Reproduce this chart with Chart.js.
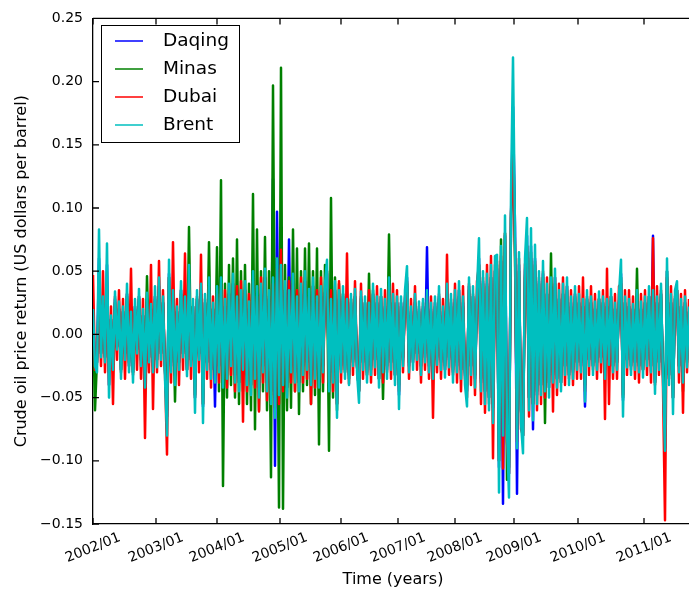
<!DOCTYPE html>
<html>
<head>
<meta charset="utf-8">
<script src="https://cdn.jsdelivr.net/npm/chart.js@4.4.0/dist/chart.umd.min.js"></script>
<style>
  html, body { margin: 0; padding: 0; background: #fff; }
  canvas { display: block; }
</style>
</head>
<body>
<canvas id="returnsChart" width="689" height="594"></canvas>
<script>
// Crude oil price returns, stored in thousandths (one row per calendar year)
var daqing = [
  15,-20,-22,60,-15,25,-18,55,-40,12,-22,28,-10,20,-28,18,-15,32,-25,15,-30,22,-12,30,-20,15,-35,28,-18,20,-25,30,
  -20,38,-15,25,-28,-65,48,-25,28,-32,18,-22,35,-15,25,-28,45,-20,22,-50,28,-15,32,-57,25,-22,38,-28,20,-57,
  30,-25,38,-35,22,-28,32,-20,40,-32,25,-38,28,-22,35,-32,20,-40,42,-28,30,-42,32,-25,45,-38,28,-45,123,-104,97,-40,
  45,-32,35,-42,75,-25,40,-30,25,-38,32,-25,42,-22,30,-32,38,-28,25,-35,30,-25,32,48,-38,22,-30,35,-55,28,
  -25,30,-28,22,-32,25,-20,30,-25,-45,28,-22,25,-30,20,-25,32,-20,25,-35,30,-25,22,-28,38,-22,25,-32,25,
  -48,25,-20,28,45,-25,18,-22,25,-15,20,-25,22,-18,69,-25,20,-28,25,-20,30,-22,18,-28,32,-20,25,-30,
  28,-25,35,-28,25,-32,-45,38,-25,30,-35,28,60,-38,42,-45,40,-50,45,-58,50,52,-105,58,-134,78,-62,-110,92,180,
  85,-126,55,-60,-80,50,78,-50,70,-75,60,-48,42,-40,48,-38,32,-42,38,-32,45,-35,28,-38,32,-25,38,-32,25,-30,32,-22,
  25,-25,22,-57,28,-20,25,-25,20,-22,28,-18,25,-28,22,-20,30,-25,20,-22,25,48,-52,25,-20,22,-25,20,-22,28,-25,20,-28,
  25,-20,30,-25,78,-38,25,-22,32,-28,-90,50,-32,25,-50,28,35,-25,22,-30,25,-20,18
];
var minas = [
  15,-60,-20,30,-15,22,-18,35,-30,12,-22,25,-10,20,-28,18,-15,30,-22,15,-30,20,-12,28,-20,15,-32,46,-18,20,-25,28,
  -20,35,-15,25,-28,-60,45,-22,28,-53,18,-22,32,-15,25,-28,85,-20,22,-48,28,-15,32,-55,25,-22,73,-28,20,-30,
  69,-45,122,-120,40,-50,55,-40,60,-50,75,-55,50,-45,55,-55,40,-60,111,-75,83,-60,50,-45,77,-60,50,-113,197,-50,60,-137,
  211,-138,55,-60,45,-58,83,-45,68,-63,50,-45,68,-40,72,-55,50,-48,68,-87,50,-45,55,50,-92,108,-50,45,-60,40,
  -28,32,-30,25,-35,28,-22,30,-25,-45,30,-22,25,-32,48,-28,35,-20,25,-35,30,-51,20,-25,79,-22,25,-32,25,
  -40,22,-18,25,40,-22,15,-20,25,-15,18,-25,20,-15,25,-22,18,-25,22,-18,28,-20,15,-25,30,-18,22,-28,
  25,-22,30,-28,22,-30,-41,35,-25,30,-32,28,55,-35,40,-45,38,-50,45,-55,50,55,-100,75,-65,80,-115,-105,90,170,
  60,-75,50,-60,-80,45,70,-50,65,-55,55,-45,40,-40,45,-70,32,-38,64,-30,40,-35,28,-38,32,-25,35,-32,22,-28,30,-22,
  25,-22,22,-40,28,-20,25,-25,20,-22,28,-18,25,-28,22,-20,30,-25,20,-22,25,45,-50,25,-20,22,-25,20,-22,52,-25,20,-28,
  25,-20,30,-25,30,-38,25,-22,32,-28,-80,50,-32,25,-50,28,35,-25,22,-45,25,-22,18
];
var dubai = [
  47,-28,-22,40,-25,50,-30,35,-40,22,-55,30,-20,35,-30,28,-35,32,-25,52,-32,22,-28,30,-35,28,-82,25,-30,55,-59,30,
  -30,58,-25,35,-30,-95,45,-38,73,-32,28,-40,35,-28,64,-28,40,-35,22,-50,30,-30,63,-55,28,-35,38,-42,30,-32,
  32,-38,40,-35,35,-42,32,-32,40,-45,38,-38,42,-69,35,-45,32,-40,42,-42,30,-61,45,-38,45,-52,30,-48,40,-58,52,-55,
  67,-45,35,-42,42,-38,40,-45,35,-38,45,-38,42,-35,30,-55,38,-42,35,-35,45,-38,32,50,-38,35,-45,35,-55,42,
  -38,32,-30,64,-39,28,-32,42,-25,-45,40,-35,25,-32,35,-38,32,-32,38,-35,30,-38,35,-30,38,-35,40,-32,35,
  -45,25,-30,30,42,-35,28,-22,38,-28,22,-38,25,-28,30,-35,30,-66,25,-30,32,-35,28,-28,63,-32,28,-32,
  40,-38,35,-45,38,-35,-50,40,-40,32,-48,42,55,-55,45,-62,55,-55,62,-98,55,58,-100,62,-106,80,-85,-110,95,140,
  70,-85,60,-75,-80,55,70,-65,60,-55,58,-60,45,-55,50,-50,45,-42,40,-61,45,-48,40,-38,45,-40,38,-35,35,-40,32,-35,
  38,-35,45,-45,30,-32,38,-28,32,-35,28,-30,35,-67,52,-55,30,-35,32,-35,38,40,-48,35,-32,35,-28,30,-35,28,-38,32,-28,
  35,-32,30,-38,76,-40,38,-32,35,-42,-147,45,-35,38,-50,30,35,-38,32,-62,35,-30,28
];
var brent = [
  20,-25,-30,83,-18,30,-22,72,-50,15,-28,34,-12,26,-35,22,-20,40,-30,18,-38,28,-15,36,-25,20,-42,33,-22,24,-30,38,
  -26,45,-20,30,-35,-80,59,-30,35,-40,22,-28,42,-18,30,-33,55,-25,28,-62,35,-20,40,-70,32,-28,45,-35,25,-38,
  38,-30,45,-42,28,-35,40,-25,48,-38,30,-45,35,-28,42,-40,26,-48,50,-35,38,-50,40,-30,52,-45,35,-55,45,-66,60,-48,
  55,-40,42,-50,35,-30,48,-38,30,-45,40,-32,50,-28,36,-40,45,-35,30,-42,38,-30,40,59,-45,28,-38,42,-66,35,
  -30,38,-35,28,-40,32,-25,36,-30,-54,34,-28,30,-38,25,-32,40,-26,30,-42,36,-30,28,-35,45,-28,32,-40,30,
  -59,30,-25,35,54,-30,22,-28,32,-20,26,-32,28,-22,35,-30,25,-35,30,-24,38,-28,22,-34,40,-26,32,-38,
  35,-30,42,-35,30,-40,-57,45,-32,38,-42,35,76,-45,50,-55,48,-60,55,-70,62,63,-125,70,-80,94,-75,-129,111,219,
  80,-90,65,-70,-94,60,92,-60,84,-68,71,-55,50,-48,58,-45,40,-50,45,-38,52,-42,35,-45,40,-32,45,-40,30,-35,38,-28,
  32,-30,28,-53,35,-25,30,-32,26,-28,34,-22,30,-35,28,-24,36,-30,25,-28,32,59,-65,30,-26,28,-32,24,-28,35,-30,26,-34,
  30,-25,38,-30,35,-47,30,-28,40,-35,-92,60,-40,32,-63,35,42,-30,28,-38,30,-26,22
];
// sample index of each January tick
var yearTicks = [0, 31.5, 62, 93.5, 124, 152.5, 181, 210.5, 242.5, 275.5];
var yearLabels = ['2002/01', '2003/01', '2004/01', '2005/01', '2006/01', '2007/01', '2008/01', '2009/01', '2010/01', '2011/01'];
var yTicks = [-0.15, -0.10, -0.05, 0.00, 0.05, 0.10, 0.15, 0.20, 0.25];

var FONT = '"DejaVu Sans", sans-serif';
Chart.defaults.font.family = FONT;

function toPoints(values) {
    return values.map(function (v, i) { return { x: i, y: v / 1000 }; });
}

function lineSet(label, values, color, order) {
    return {
        label: label, data: toPoints(values), borderColor: color, backgroundColor: color,
        borderWidth: 2.5, pointRadius: 0, tension: 0, fill: false,
        borderJoinStyle: 'round', order: order
    };
}

var axesDecor = {
    id: 'axesDecor',
    afterDraw: function (chart) {
        var ctx = chart.ctx, a = chart.chartArea;
        var xs = chart.scales.x, ys = chart.scales.y;
        ctx.save();
        // top spine and inward tick marks
        ctx.strokeStyle = '#000';
        ctx.lineWidth = 1.3;
        ctx.beginPath();
        ctx.moveTo(a.left, a.top); ctx.lineTo(a.right, a.top);
        xs.ticks.forEach(function (t) {
            var px = xs.getPixelForValue(t.value);
            ctx.moveTo(px, a.bottom); ctx.lineTo(px, a.bottom - 6);
            ctx.moveTo(px, a.top); ctx.lineTo(px, a.top + 6);
        });
        ys.ticks.forEach(function (t) {
            var py = ys.getPixelForValue(t.value);
            ctx.moveTo(a.left, py); ctx.lineTo(a.left + 6, py);
        });
        ctx.stroke();

        // slanted year labels
        ctx.fillStyle = '#000';
        ctx.font = '14px ' + FONT;
        ctx.textAlign = 'center';
        ctx.textBaseline = 'middle';
        xs.ticks.forEach(function (t, k) {
            ctx.save();
            ctx.translate(xs.getPixelForValue(t.value), a.bottom + 24);
            ctx.rotate(-22 * Math.PI / 180);
            ctx.fillText(yearLabels[k], 0, 0);
            ctx.restore();
        });

        // axis titles
        ctx.font = '16px ' + FONT;
        ctx.fillText('Time (years)', (a.left + a.right) / 2 + 2, 580);
        ctx.save();
        ctx.translate(22, (a.top + a.bottom) / 2);
        ctx.rotate(-Math.PI / 2);
        ctx.fillText('Crude oil price return (US dollars per barrel)', 0, 0);
        ctx.restore();

        // legend box
        ctx.fillStyle = '#fff';
        ctx.fillRect(101.5, 25.5, 138, 117);
        ctx.lineWidth = 1;
        ctx.strokeRect(101.5, 25.5, 138, 117);
        ctx.font = '18.5px ' + FONT;
        ctx.textAlign = 'left';
        chart.data.datasets.forEach(function (ds, k) {
            var y = 41 + k * 28;
            ctx.strokeStyle = ds.borderColor;
            ctx.lineWidth = 1.5;
            ctx.beginPath();
            ctx.moveTo(115, y); ctx.lineTo(143, y);
            ctx.stroke();
            ctx.fillStyle = '#000';
            ctx.fillText(ds.label, 163, y);
        });
        ctx.restore();
    }
};

new Chart(document.getElementById('returnsChart'), {
    type: 'line',
    data: {
        datasets: [
            lineSet('Daqing', daqing, '#0000ff', 4),
            lineSet('Minas', minas, '#008000', 3),
            lineSet('Dubai', dubai, '#ff0000', 2),
            lineSet('Brent', brent, '#00bfbf', 1)
        ]
    },
    options: {
        responsive: false,
        animation: false,
        events: [],
        parsing: false,
        layout: { padding: { top: 15, right: 0, bottom: 0, left: 0 } },
        scales: {
            x: {
                type: 'linear', min: 0, max: 298,
                afterBuildTicks: function (s) { s.ticks = yearTicks.map(function (v) { return { value: v }; }); },
                afterFit: function (s) { s.height = 70; },
                ticks: { display: false },
                grid: { display: false, drawTicks: false },
                border: { display: true, color: '#000', width: 1.3 }
            },
            y: {
                min: -0.15, max: 0.25,
                afterBuildTicks: function (s) { s.ticks = yTicks.map(function (v) { return { value: v }; }); },
                afterFit: function (s) { s.width = 93; },
                ticks: {
                    color: '#000', padding: 10, font: { size: 14 },
                    callback: function (v) { return v.toFixed(2).replace('-', '\u2212'); }
                },
                grid: { display: false, drawTicks: false },
                border: { display: true, color: '#000', width: 1.3 }
            }
        },
        plugins: { legend: { display: false }, tooltip: { enabled: false } }
    },
    plugins: [axesDecor]
});
</script>
</body>
</html>
